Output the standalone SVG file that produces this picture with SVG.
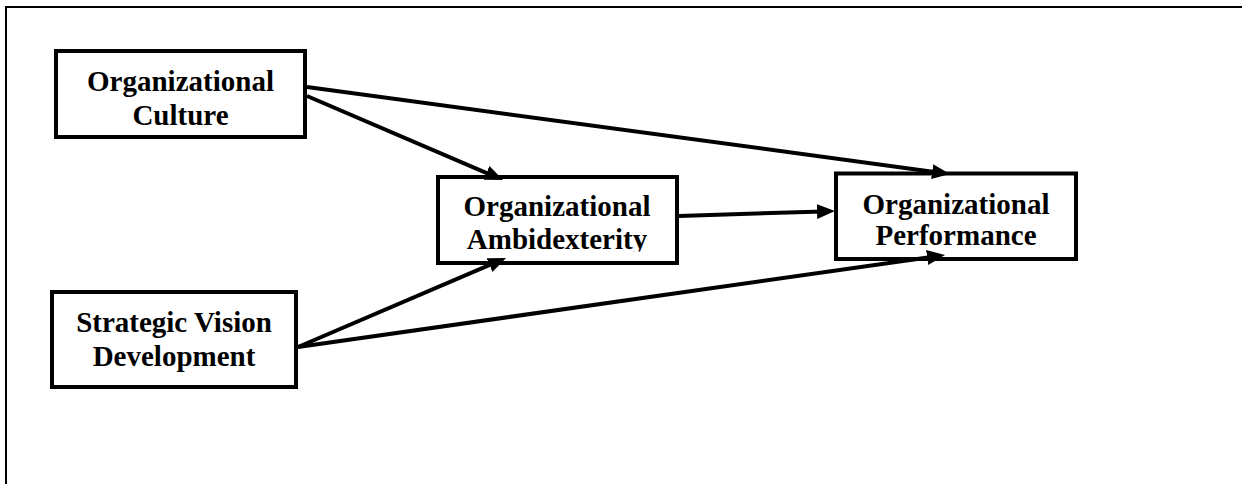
<svg xmlns="http://www.w3.org/2000/svg" width="1242" height="484" viewBox="0 0 1242 484">
<style>
.box{fill:#fff;stroke:#000;stroke-width:4}
.lbl{font-family:"Liberation Serif","Times New Roman",serif;font-weight:bold;font-size:29px;fill:#000;text-anchor:middle}
.con{stroke:#000;stroke-width:4;fill:none;marker-end:url(#ah)}
</style>
<defs>
<marker id="ah" markerUnits="userSpaceOnUse" markerWidth="19" markerHeight="16" refX="6" refY="7.5" orient="auto">
<path d="M0,0 L18,7.5 L0,15 Z" fill="#000"/>
</marker>
<clipPath id="clipAmb"><rect x="430" y="170" width="260" height="81.5"/></clipPath>
</defs>
<rect width="1242" height="484" fill="#fff"/>
<g id="frame" stroke="#000" stroke-width="2" fill="none">
<line x1="6" y1="7" x2="1242" y2="7"/>
<line x1="6" y1="6" x2="6" y2="484"/>
</g>
<g id="culture">
<rect class="box" x="56" y="51" width="249" height="86"/>
<text class="lbl" x="180.5" y="91">Organizational</text>
<text class="lbl" x="180.5" y="125">Culture</text>
</g>
<g id="ambidexterity">
<rect class="box" x="438" y="177" width="239" height="86"/>
<g clip-path="url(#clipAmb)">
<text class="lbl" x="557" y="215.5">Organizational</text>
<text class="lbl" x="557" y="249">Ambidexterity</text>
</g>
</g>
<g id="performance">
<rect class="box" x="836" y="173.5" width="240" height="85.5"/>
<text class="lbl" x="956" y="213.5">Organizational</text>
<text class="lbl" x="956" y="244.5">Performance</text>
</g>
<g id="vision">
<rect class="box" x="52" y="292" width="244" height="95"/>
<text class="lbl" x="174" y="331.5">Strategic Vision</text>
<text class="lbl" x="174" y="365.5">Development</text>
</g>
<g id="connectors">
<line class="con" x1="307" y1="87" x2="938.1" y2="172.4"/>
<line class="con" x1="307" y1="96" x2="492" y2="175.3"/>
<line class="con" x1="679" y1="216" x2="823" y2="211.4"/>
<line class="con" x1="298" y1="347" x2="495" y2="262.7"/>
<line class="con" x1="298" y1="347" x2="933.1" y2="256.7"/>
</g>
</svg>
